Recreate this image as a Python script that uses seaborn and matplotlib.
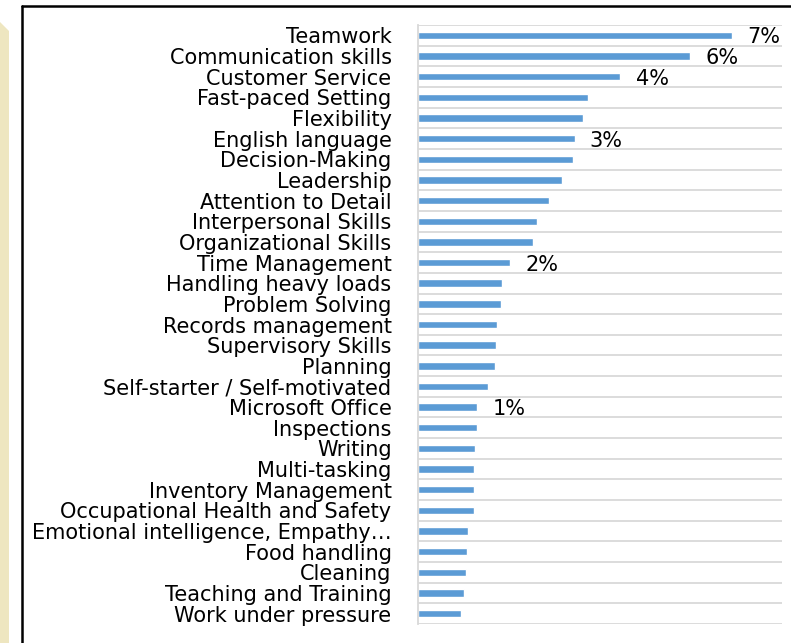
import numpy as np
import pandas as pd
import matplotlib
matplotlib.use("Agg")
import matplotlib.pyplot as plt
from matplotlib.lines import Line2D
from matplotlib.patches import Polygon
import seaborn as sns

skills = ["Teamwork", "Communication skills", "Customer Service", "Fast-paced Setting",
          "Flexibility", "English language", "Decision-Making", "Leadership",
          "Attention to Detail", "Interpersonal Skills", "Organizational Skills",
          "Time Management", "Handling heavy loads", "Problem Solving",
          "Records management", "Supervisory Skills", "Planning",
          "Self-starter / Self-motivated", "Microsoft Office", "Inspections", "Writing",
          "Multi-tasking", "Inventory Management", "Occupational Health and Safety",
          "Emotional intelligence, Empathy\u2026", "Food handling", "Cleaning",
          "Teaching and Training", "Work under pressure"]
share = [6.90, 5.98, 4.45, 3.74, 3.62, 3.44, 3.41, 3.17, 2.89, 2.62, 2.53, 2.02,
         1.84, 1.82, 1.74, 1.71, 1.69, 1.53, 1.30, 1.30, 1.25, 1.24, 1.23, 1.23,
         1.09, 1.08, 1.06, 1.02, 0.95]
# only some bars carry a data label
labelled = {"Teamwork": "7%", "Communication skills": "6%", "Customer Service": "4%",
            "English language": "3%", "Time Management": "2%", "Microsoft Office": "1%"}

df = pd.DataFrame({"skill": skills, "share": share})

sns.set_style("white")
plt.rcParams["font.family"] = ["DejaVu Sans"]
FS = 15

W, H = 791, 643
fig = plt.figure(figsize=(W / 100, H / 100), dpi=100)
ax = fig.add_axes([418 / W, (H - 624) / H, (782 - 418) / W, (624 - 25) / H])

sns.barplot(data=df, x="share", y="skill", color="#5B9BD5", width=0.36,
            saturation=1, ax=ax, orient="h")

n = len(skills)
ax.set_xlim(0, 8)
ax.set_ylim(n - 0.5, -0.5)
ax.set_xlabel("")
ax.set_ylabel("")
ax.set_xticks([])

ax.set_yticks(np.arange(n + 1) - 0.5, minor=True)
ax.tick_params(axis="y", which="major", length=0, pad=19, labelsize=FS, labelcolor="black")
ax.tick_params(axis="y", which="minor", length=6, width=1.3, color="#D9D9D9")
ax.grid(which="minor", axis="y", color="#D9D9D9", linewidth=1.3)
ax.grid(which="major", axis="x", visible=False)
for lab in ax.get_yticklabels():
    lab.set_verticalalignment("center_baseline")

for s in ["top", "right", "bottom"]:
    ax.spines[s].set_visible(False)
ax.spines["left"].set_color("#D9D9D9")
ax.spines["left"].set_linewidth(1.3)

for i, (sk, v) in enumerate(zip(skills, share)):
    if sk in labelled:
        ax.annotate(labelled[sk], xy=(v, i), xytext=(11, 0), textcoords="offset points",
                    va="center_baseline", ha="left", fontsize=FS, color="black")

# beige strip on the far left and the black frame
fig.add_artist(Polygon([(0, (H - 22) / H), (9 / W, (H - 31) / H), (9 / W, 0), (0, 0)],
                       closed=True, transform=fig.transFigure, color="#EEE6C0", lw=0))
fig.add_artist(Line2D([22 / W, 22 / W], [0, (H - 6) / H], transform=fig.transFigure,
                      color="black", lw=1.8))
fig.add_artist(Line2D([22 / W, 1], [(H - 6) / H, (H - 6) / H], transform=fig.transFigure,
                      color="black", lw=1.8))

fig.savefig("out.png", dpi=100)
